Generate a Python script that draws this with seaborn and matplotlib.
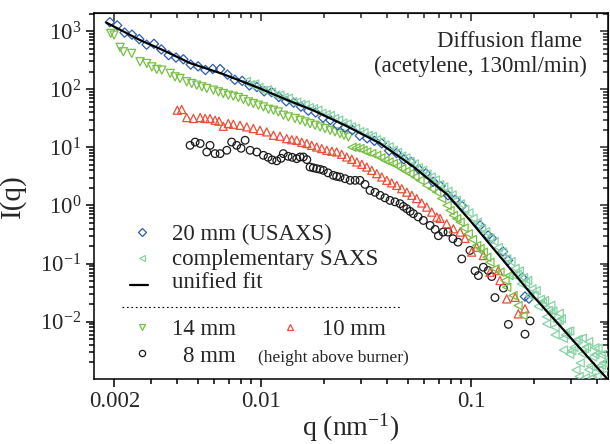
import numpy as np
import matplotlib
matplotlib.use("Agg")
import matplotlib.pyplot as plt
import matplotlib.ticker as mticker
import seaborn as sns

# unified fit curve
fit_q = [0.00183, 0.00265, 0.00347, 0.00459, 0.00659, 0.00957, 0.01374, 0.01769,
         0.02568, 0.03686, 0.05294, 0.06379, 0.07686, 0.0989, 0.1374, 0.191, 0.2865, 0.449]
fit_I = [1402, 700, 457, 281, 182, 108, 62.1, 43.4,
         23.0, 11.7, 4.70, 2.70, 1.55, 0.551, 0.132, 0.0316, 0.00621, 0.001]

# 20 mm, USAXS (blue diamonds)
usaxs_q = [0.001905, 0.002065, 0.002239, 0.002427, 0.002630, 0.002851, 0.003090, 0.003350,
           0.003631, 0.003936, 0.004266, 0.004624, 0.005012, 0.005433, 0.005888, 0.006383,
           0.006918, 0.007499, 0.008128, 0.008810, 0.009550, 0.01035, 0.01122, 0.01216,
           0.01318, 0.01429, 0.01549, 0.01679, 0.01820, 0.01972, 0.02138, 0.02317,
           0.02512, 0.02723, 0.02951, 0.03199, 0.03467, 0.03758, 0.04074, 0.04416,
           0.04786, 0.05188, 0.05623, 0.06095, 0.06607, 0.07161, 0.0777, 0.0840,
           0.0906, 0.1104, 0.1205, 0.1259, 0.1419, 0.150, 0.175, 0.1807, 0.1888]
usaxs_I = [1422, 1253, 940, 867, 728, 583, 603, 483,
           385, 350, 327, 265, 247, 214, 223, 222,
           178, 145, 139, 116, 109, 91.8, 88.9, 73.3,
           61.8, 58.7, 50.1, 42.7, 39.6, 32.2, 29.4, 23.9,
           21.8, 19.7, 15.8, 14.3, 12.9, 11.7, 8.71, 7.98,
           6.21, 5.56, 4.22, 3.56, 2.55, 2.15, 1.49, 1.25,
           0.98, 0.452, 0.304, 0.270, 0.161, 0.113, 0.0574, 0.0270, 0.0249]

# complementary SAXS at 20 mm (mint left triangles)
saxs_q = [0.008511, 0.008913, 0.009333, 0.009772, 0.01023, 0.01072, 0.01122, 0.01175,
          0.01230, 0.01288, 0.01349, 0.01413, 0.01479, 0.01549, 0.01622, 0.01698,
          0.01778, 0.01862, 0.01950, 0.02042, 0.02138, 0.02239, 0.02344, 0.02455,
          0.02570, 0.02692, 0.02818, 0.02951, 0.03090, 0.03236, 0.03388, 0.03548,
          0.03715, 0.03890, 0.04074, 0.04266, 0.04467, 0.04677, 0.04898, 0.05129,
          0.05370, 0.05623, 0.05888, 0.06166, 0.06457, 0.06761, 0.07079, 0.07413,
          0.07762, 0.08128, 0.08511, 0.08913, 0.09333, 0.09772, 0.1023, 0.1072,
          0.1122, 0.1175, 0.1230, 0.1288, 0.1349, 0.1413, 0.1479, 0.1549,
          0.1622, 0.1698, 0.1778, 0.1862, 0.1950, 0.2042, 0.2138, 0.2239,
          0.2344, 0.2455, 0.2570, 0.2692, 0.2818, 0.2951, 0.3090, 0.3236,
          0.3388, 0.3548, 0.3715, 0.3890, 0.4074, 0.4266,
          0.1585, 0.1660, 0.1738, 0.1820, 0.1905, 0.1995, 0.2089, 0.2188,
          0.2291, 0.2399, 0.2512, 0.2630, 0.2754, 0.2884, 0.3020, 0.3162,
          0.3311, 0.3467, 0.3631, 0.3802, 0.3981, 0.4169, 0.4365,
          0.2754, 0.2951, 0.3162, 0.3273, 0.3388, 0.3508, 0.3631, 0.3758,
          0.3890, 0.4027, 0.4169, 0.4315, 0.4467, 0.2512, 0.2291, 0.2399, 0.2630]
saxs_I = [136.5, 119.7, 123.0, 107.4, 95.5, 97.7, 88.9, 79.1,
          78.9, 71.8, 70.0, 61.1, 60.0, 55.0, 53.8, 48.2,
          46.2, 43.7, 38.5, 36.5, 35.3, 31.2, 29.5, 26.1,
          25.2, 22.6, 21.2, 18.6, 17.9, 16.0, 15.4, 13.5,
          12.6, 11.0, 10.2, 8.91, 8.11, 7.06, 6.58, 5.71,
          5.18, 4.42, 4.03, 3.44, 3.06, 2.74, 2.28, 2.08,
          1.75, 1.52, 1.23, 1.06, 0.859, 0.745, 0.597, 0.512,
          0.400, 0.352, 0.275, 0.241, 0.188, 0.158, 0.121, 0.108,
          0.0828, 0.0743, 0.0569, 0.0511, 0.0366, 0.0341, 0.0242, 0.0231,
          0.0156, 0.0152, 0.01005, 0.01125, 0.00590, 0.00692, 0.00362, 0.00498,
          0.00279, 0.00366, 0.00171, 0.00270, 0.00148, 0.00195,
          0.0632, 0.0652, 0.0445, 0.0469, 0.0279, 0.0284, 0.0183, 0.0210,
          0.0121, 0.0136, 0.00798, 0.0105, 0.00514, 0.00678, 0.00316, 0.00466,
          0.00194, 0.00343, 0.00149, 0.00247, 0.00115, 0.00178, 0.00126,
          0.00324, 0.00275, 0.00147, 0.00114, 0.00520, 0.00108, 0.00451, 0.00108,
          0.00356, 0.00348, 0.00269, 0.00281, 0.00203, 0.00592, 0.00916, 0.0191, 0.0139]

# 14 mm (green), USAXS part and SAXS part
mm14_q = [0.001923, 0.001995, 0.002132, 0.002209, 0.002421, 0.002653, 0.002856, 0.003019,
          0.003187, 0.003367, 0.003690, 0.003893, 0.004113, 0.004426, 0.004677, 0.004942,
          0.005222, 0.005513, 0.005929, 0.006266, 0.006607, 0.006982, 0.007379, 0.007798,
          0.008241, 0.008710, 0.009190, 0.009710, 0.01026, 0.01084, 0.01146, 0.01209,
          0.01277, 0.01349, 0.01452, 0.01535, 0.01622, 0.01711, 0.01808, 0.01910,
          0.02018, 0.02133, 0.02250, 0.02377, 0.02483, 0.02606]
mm14_I = [912, 853, 524, 440, 413, 296, 277, 242,
          219, 213, 187, 163, 153, 134, 125, 117,
          110, 103, 96.2, 89.8, 84.3, 78.8, 75.7, 71.9,
          66.4, 60.4, 56.6, 53.0, 49.5, 45.2, 43.4, 40.6,
          35.6, 33.3, 31.3, 29.2, 27.3, 25.6, 23.9, 22.4,
          21.0, 19.6, 18.4, 17.2, 16.1, 15.0]
mm14s_q = [0.02710, 0.02831, 0.02958, 0.03060, 0.03187, 0.03367, 0.03556, 0.03719,
           0.03890, 0.04070, 0.04266, 0.04467, 0.04677, 0.04898, 0.05124, 0.05412,
           0.05715, 0.06151, 0.06500, 0.06868, 0.07250, 0.07690, 0.07943, 0.08241,
           0.08551, 0.08872, 0.09268, 0.09705, 0.1016, 0.1064, 0.1104, 0.1145,
           0.1189, 0.1231, 0.1300, 0.1374, 0.1452, 0.1479, 0.1517, 0.1585, 0.1675, 0.1770]
mm14s_I = [10.0, 9.80, 9.50, 8.88, 8.30, 7.78, 7.28, 6.59,
           5.97, 5.58, 5.24, 4.74, 4.29, 3.86, 3.52, 3.08,
           2.70, 2.21, 1.94, 1.69, 1.31, 1.0, 0.820, 0.673,
           0.590, 0.515, 0.409, 0.325, 0.259, 0.204, 0.181, 0.157,
           0.128, 0.105, 0.0811, 0.0708, 0.0509, 0.0390, 0.0621, 0.0281, 0.0189, 0.0127]

# 10 mm (red up triangles)
mm10_q = [0.003990, 0.004188, 0.004426, 0.004764, 0.005128, 0.005412, 0.005715, 0.006036,
          0.006310, 0.006607, 0.006982, 0.007379, 0.007943, 0.008551, 0.009190, 0.009886,
          0.01064, 0.01146, 0.01231, 0.01324, 0.01400, 0.01479, 0.01563, 0.01652,
          0.01742, 0.01841, 0.01945, 0.02056, 0.02173, 0.02291, 0.02421, 0.02559,
          0.02704, 0.02858, 0.03020, 0.03187, 0.03367, 0.03556, 0.03758, 0.03972,
          0.04188, 0.04426, 0.04677, 0.04943, 0.05224, 0.05508, 0.05821, 0.06152,
          0.06501, 0.06870, 0.07120, 0.07656, 0.08237, 0.08872, 0.09363, 0.1007,
          0.1064, 0.1145, 0.1231, 0.1349, 0.1374, 0.1479, 0.1622, 0.1679, 0.1807]
mm10_I = [43.4, 44.7, 32.5, 31.3, 32.5, 31.3, 31.3, 29.2,
          28.1, 23.0, 25.6, 24.9, 23.9, 22.4, 21.0, 19.6,
          18.4, 16.1, 15.5, 14.1, 13.5, 13.2, 12.2, 11.6,
          10.8, 10.1, 9.50, 8.88, 8.53, 8.30, 7.57, 6.81,
          6.21, 5.58, 5.09, 4.57, 4.01, 3.52, 3.08, 2.70,
          2.44, 2.21, 1.94, 1.69, 1.49, 1.31, 1.10, 0.935,
          0.766, 0.628, 0.597, 0.483, 0.396, 0.347, 0.270, 0.157,
          0.191, 0.137, 0.0708, 0.0757, 0.0509, 0.0246, 0.0262, 0.0136, 0.0166]

# 8 mm (black circles)
mm8_q = [0.004591, 0.004853, 0.005128, 0.005513, 0.005715, 0.006036, 0.006383, 0.006868,
         0.007244, 0.007656, 0.008035, 0.008395, 0.008872, 0.009545, 0.01026, 0.01080,
         0.01128, 0.01188, 0.01245, 0.01276, 0.01345, 0.01406, 0.01479, 0.01535,
         0.01590, 0.01652, 0.01711, 0.01774, 0.01841, 0.01910, 0.01981, 0.02085,
         0.02208, 0.02291, 0.02377, 0.02512, 0.02655, 0.02805, 0.02958, 0.03126,
         0.03303, 0.03491, 0.03689, 0.03890, 0.04111, 0.04345, 0.04592, 0.04764,
         0.04943, 0.05129, 0.05314, 0.05598, 0.05932, 0.06383, 0.06745, 0.06990,
         0.07361, 0.07770, 0.08200, 0.08667, 0.09034, 0.09886, 0.1045, 0.1084,
         0.1145, 0.1208, 0.1255, 0.1300, 0.1426, 0.1506, 0.1807, 0.1910]
mm8_I = [10.8, 12.3, 11.6, 8.30, 10.8, 7.78, 7.78, 8.88,
         12.3, 10.8, 9.61, 13.2, 8.88, 8.30, 7.28, 6.73,
         6.08, 5.85, 6.46, 7.78, 7.00, 6.73, 6.38, 6.81,
         6.81, 6.14, 4.57, 4.43, 4.29, 4.18, 4.01, 3.63,
         3.29, 3.16, 3.08, 2.88, 2.70, 2.70, 2.70, 2.30,
         1.81, 1.68, 1.49, 1.35, 1.22, 1.15, 1.07, 0.961,
         0.877, 0.789, 0.720, 0.634, 0.551, 0.452, 0.386, 0.301,
         0.347, 0.347, 0.267, 0.233, 0.120, 0.168, 0.0748, 0.0621,
         0.0863, 0.0757, 0.0597, 0.0259, 0.0378, 0.00897, 0.00608, 0.0103]

x_ticks = [0.002, 0.01, 0.1]
x_labels = ['0.002', '0.01', '0.1']
y_ticks = [1e-2, 1e-1, 1e0, 1e1, 1e2, 1e3]
y_labels = [r'$\mathregular{10^{-2}}$', r'$\mathregular{10^{-1}}$', r'$\mathregular{10^{0}}$',
            r'$\mathregular{10^{1}}$', r'$\mathregular{10^{2}}$', r'$\mathregular{10^{3}}$']

c_blue = '#2b5db3'
c_mint = '#86d3a4'
c_green = '#76c043'
c_red = '#ee4d36'
c_black = '#1a1a1a'

sns.set_style("ticks")
plt.rcParams['font.family'] = ['Liberation Serif', 'DejaVu Serif']
plt.rcParams['mathtext.fontset'] = 'custom'
plt.rcParams['mathtext.rm'] = 'Liberation Serif'
plt.rcParams['mathtext.it'] = 'Liberation Serif:italic'

fig = plt.figure(figsize=(6.1, 4.44), dpi=100)
ax = fig.add_axes([0.154, 0.1464, 0.8427, 0.825])
ax.set_xscale('log')
ax.set_yscale('log')


def hollow(q, I, marker, color, s, z):
    sns.scatterplot(x=q, y=I, ax=ax, marker=marker, s=s, color=color,
                    facecolors='none', edgecolor=color, linewidth=0.9,
                    legend=False, zorder=z)


hollow(mm8_q, mm8_I, 'o', c_black, 30, 2)
hollow(mm10_q, mm10_I, '^', c_red, 34, 3)
hollow(mm14_q, mm14_I, 'v', c_green, 34, 3)
hollow(mm14s_q, mm14s_I, '<', c_green, 34, 3)
hollow(usaxs_q, usaxs_I, 'D', c_blue, 22, 4)
hollow(saxs_q, saxs_I, '<', c_mint, 34, 5)
sns.lineplot(x=fit_q, y=fit_I, ax=ax, color='black', lw=1.6, estimator=None, zorder=6)

ax.set_xlim(0.0016, 0.449)
ax.set_ylim(1.03e-3, 2070)

ax.xaxis.set_major_locator(mticker.FixedLocator(x_ticks))
ax.xaxis.set_major_formatter(mticker.FixedFormatter(x_labels))
ax.xaxis.set_minor_locator(mticker.LogLocator(base=10, subs=np.arange(2, 10), numticks=30))
ax.xaxis.set_minor_formatter(mticker.NullFormatter())
ax.yaxis.set_major_locator(mticker.FixedLocator(y_ticks))
ax.yaxis.set_major_formatter(mticker.FixedFormatter(y_labels))
ax.yaxis.set_minor_locator(mticker.LogLocator(base=10, subs=np.arange(2, 10), numticks=30))
ax.yaxis.set_minor_formatter(mticker.NullFormatter())

ax.tick_params(which='both', direction='out', top=False, right=False,
               width=1.1, color='black', labelsize=16.5, pad=3)
ax.tick_params(which='major', length=6)
ax.tick_params(which='minor', length=3.5)
for sp in ax.spines.values():
    sp.set_linewidth(1.1)
    sp.set_color('black')

# mirrored ticks pointing inward on top and right
top = ax.secondary_xaxis('top')
top.xaxis.set_major_locator(mticker.FixedLocator(x_ticks))
top.xaxis.set_minor_locator(mticker.LogLocator(base=10, subs=np.arange(2, 10), numticks=30))
top.xaxis.set_major_formatter(mticker.NullFormatter())
top.xaxis.set_minor_formatter(mticker.NullFormatter())
top.tick_params(which='both', direction='in', width=1.1)
top.tick_params(which='major', length=6)
top.tick_params(which='minor', length=3.5)
right = ax.secondary_yaxis('right')
right.yaxis.set_major_locator(mticker.FixedLocator(y_ticks))
right.yaxis.set_minor_locator(mticker.LogLocator(base=10, subs=np.arange(2, 10), numticks=30))
right.yaxis.set_major_formatter(mticker.NullFormatter())
right.yaxis.set_minor_formatter(mticker.NullFormatter())
right.tick_params(which='both', direction='in', width=1.1)
right.tick_params(which='major', length=6)
right.tick_params(which='minor', length=3.5)

ax.set_xlabel('q (nm$^{-1}$)', fontsize=20, labelpad=-1)
ax.set_ylabel('I(q)', fontsize=21, labelpad=10)

ax.text(0.949, 0.907, 'Diffusion flame', transform=ax.transAxes,
        ha='right', va='baseline', fontsize=16.5)
ax.text(0.959, 0.839, '(acetylene, 130ml/min)', transform=ax.transAxes,
        ha='right', va='baseline', fontsize=16.5)

# hand-made legend
tr = ax.transAxes
mk = dict(transform=tr, mfc='none', mew=0.9, ms=4.5, ls='none', clip_on=False)
ax.plot([0.0934], [0.402], marker='D', mec=c_blue, **{**mk, 'ms': 3.8})
ax.text(0.152, 0.379, '20 mm (USAXS)', transform=tr, fontsize=16.5, va='baseline')
ax.plot([0.0934], [0.329], marker='<', mec=c_mint, **mk)
ax.text(0.152, 0.311, 'complementary SAXS', transform=tr, fontsize=16.5, va='baseline')
ax.plot([0.070, 0.105], [0.257, 0.257], color='black', lw=1.6, transform=tr)
ax.text(0.152, 0.248, 'unified fit', transform=tr, fontsize=16.5, va='baseline')
ax.plot([0.0545, 0.595], [0.197, 0.197], color='black', lw=0.8,
        ls=(0, (1.5, 2.5)), transform=tr)
ax.plot([0.0934], [0.143], marker='v', mec=c_green, **mk)
ax.text(0.152, 0.120, '14 mm', transform=tr, fontsize=16.5, va='baseline')
ax.plot([0.381], [0.143], marker='^', mec=c_red, **mk)
ax.text(0.444, 0.120, '10 mm', transform=tr, fontsize=16.5, va='baseline')
ax.plot([0.0934], [0.070], marker='o', mec=c_black, **mk)
ax.text(0.173, 0.047, '8 mm', transform=tr, fontsize=16.5, va='baseline')
ax.text(0.319, 0.047, '(height above burner)', transform=tr, fontsize=12.5, va='baseline')

fig.savefig('out.png', dpi=100)
